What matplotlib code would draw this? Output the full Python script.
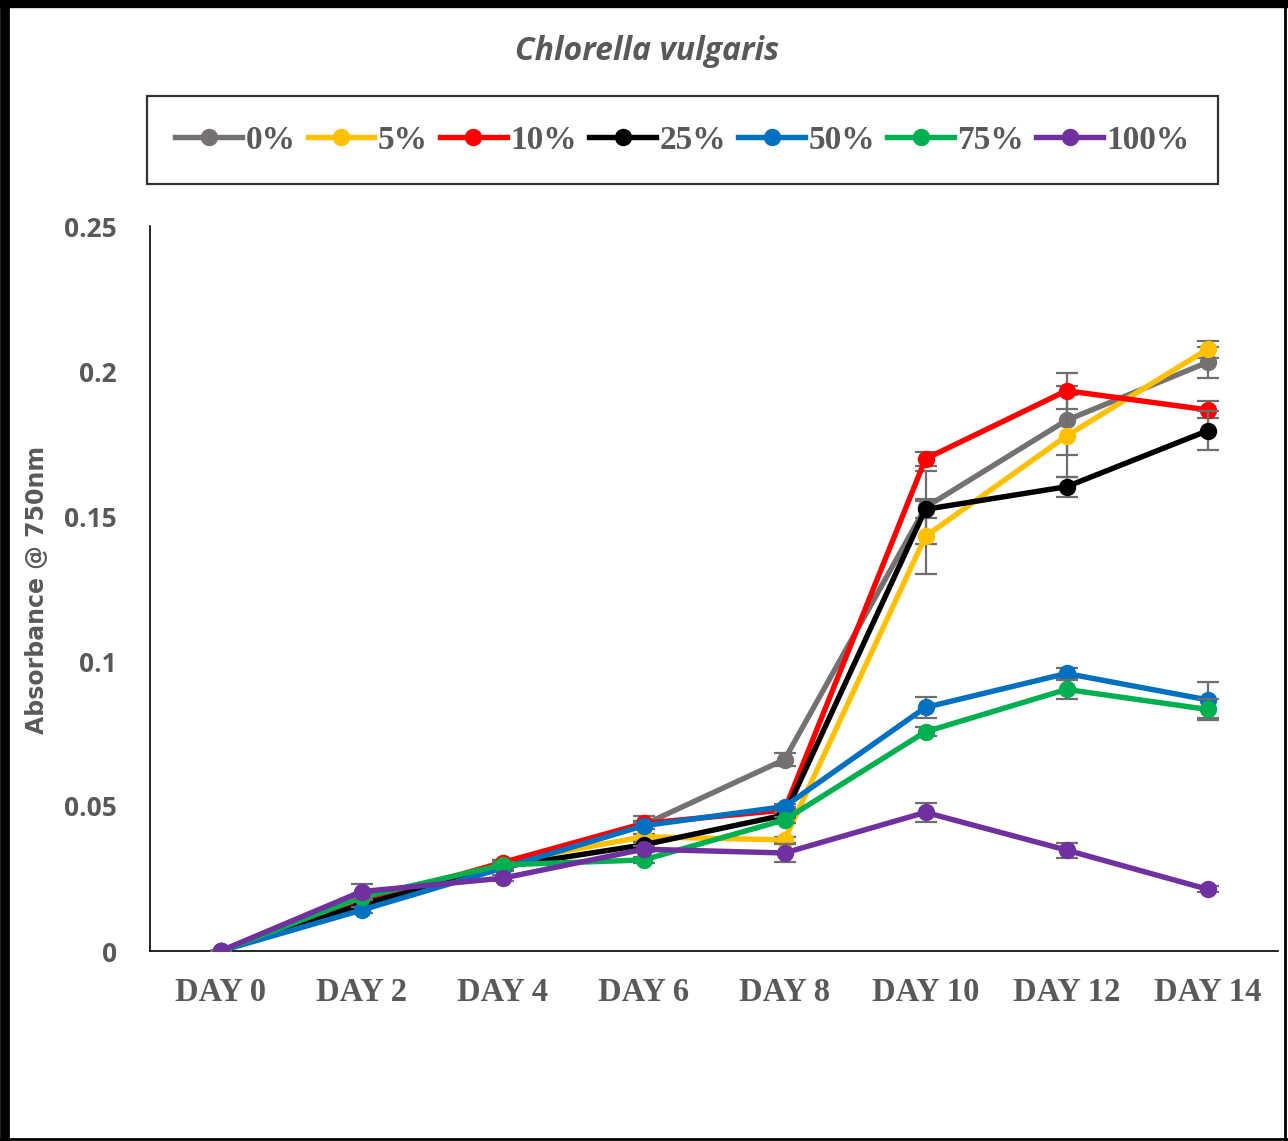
import numpy as np
import matplotlib.pyplot as plt
from matplotlib.lines import Line2D

days = ['DAY 0', 'DAY 2', 'DAY 4', 'DAY 6', 'DAY 8', 'DAY 10', 'DAY 12', 'DAY 14']
labels = ['0%', '5%', '10%', '25%', '50%', '75%', '100%']
colors = ['#767171', '#FFC000', '#FF0000', '#000000', '#0070C0', '#00B050', '#7030A0']

conc_0 = [0, 0.017, 0.029, 0.0435, 0.066, 0.153, 0.183, 0.203]
conc_5 = [0, 0.017, 0.0305, 0.0394, 0.0383, 0.143, 0.1776, 0.2075]
conc_10 = [0, 0.0165, 0.0305, 0.0440, 0.0486, 0.1697, 0.1932, 0.1866]
conc_25 = [0, 0.016, 0.029, 0.0366, 0.0469, 0.1523, 0.1601, 0.1794]
conc_50 = [0, 0.0141, 0.0286, 0.0432, 0.0498, 0.084, 0.0957, 0.0866]
conc_75 = [0, 0.0185, 0.0297, 0.0314, 0.0452, 0.0756, 0.0902, 0.0833]
conc_100 = [0, 0.0205, 0.0251, 0.0351, 0.0338, 0.0478, 0.0348, 0.0213]

err_0 = [0, 0.001, 0.001, 0.003, 0.0023, 0.0125, 0.012, 0.0053]
err_5 = [0, 0.001, 0.001, 0.001, 0.001, 0.013, 0.014, 0.0029]
err_10 = [0, 0.001, 0.001, 0.001, 0.001, 0.0025, 0.0062, 0.0029]
err_25 = [0, 0.001, 0.001, 0.001, 0.001, 0.003, 0.0034, 0.0067]
err_50 = [0, 0.001, 0.001, 0.001, 0.001, 0.0037, 0.002, 0.0063]
err_75 = [0, 0.001, 0.001, 0.001, 0.001, 0.0015, 0.0033, 0.0037]
err_100 = [0, 0.0026, 0.001, 0.001, 0.003, 0.0034, 0.0026, 0.001]

series = [conc_0, conc_5, conc_10, conc_25, conc_50, conc_75, conc_100]
errors = [err_0, err_5, err_10, err_25, err_50, err_75, err_100]

txt = '#595959'

fig = plt.figure(figsize=(12.88, 11.41), dpi=100)
ax = fig.add_axes([150 / 1288, 1 - 951 / 1141, 1128 / 1288, 725 / 1141])

x = np.arange(len(days))
for i, (vals, errs) in enumerate(zip(series, errors)):
    ax.errorbar(x, vals, yerr=errs, fmt='none', ecolor='#6e6e6e', elinewidth=1.6,
                capsize=8, capthick=1.6, zorder=2 + 2 * i)
    ax.plot(x, vals, color=colors[i], lw=3.9, marker='o', markersize=11.5,
            label=labels[i], zorder=3 + 2 * i)

ax.set_xlim(-0.5, len(days) - 0.5)
ax.set_ylim(0, 0.25)
ax.set_yticks([0, 0.05, 0.1, 0.15, 0.2, 0.25])
ax.set_yticklabels(['0', '0.05', '0.1', '0.15', '0.2', '0.25'])
ax.set_xticks(x)
ax.set_xticklabels(days)
ax.tick_params(axis='y', length=0, pad=24, labelcolor=txt, labelsize=19)
ax.tick_params(axis='x', length=0, pad=19, labelcolor=txt)
for t in ax.get_yticklabels():
    t.set_fontfamily('Open Sans')
    t.set_fontweight('bold')
for t in ax.get_xticklabels():
    t.set_fontfamily('Liberation Serif')
    t.set_fontweight('bold')
    t.set_fontsize(23.5)

ax.spines['top'].set_visible(False)
ax.spines['right'].set_visible(False)
ax.spines['left'].set_linewidth(1.2)
ax.spines['bottom'].set_linewidth(1.2)

fig.text(37 / 1288, 1 - 590 / 1141, 'Absorbance @ 750nm', rotation=90, ha='center', va='center',
         color=txt, fontsize=17, family='DejaVu Sans', fontweight='bold')

fig.text(647 / 1288, 1 - 51 / 1141, 'Chlorella vulgaris', ha='center', va='center',
         color=txt, fontsize=23, family='Open Sans', fontweight='bold', style='italic')

leg = fig.legend(loc='lower left', bbox_to_anchor=(147 / 1288, 1 - 184 / 1141, 1071 / 1288, 80 / 1141),
                 mode='expand', ncol=7, frameon=True, fancybox=False, handlelength=2.0,
                 handletextpad=0.1, borderaxespad=0, borderpad=0.85,
                 prop={'family': 'Liberation Serif', 'weight': 'bold', 'size': 24})
leg.get_frame().set_edgecolor('black')
leg.get_frame().set_linewidth(1.6)
for t in leg.get_texts():
    t.set_color(txt)

# outer frame
fig.add_artist(Line2D([0.004, 0.004], [0, 1], color='black', lw=7, transform=fig.transFigure))
fig.add_artist(Line2D([0, 1], [0.9965, 0.9965], color='black', lw=6, transform=fig.transFigure))
fig.add_artist(Line2D([0.998, 0.998], [0, 1], color='black', lw=2, transform=fig.transFigure))
fig.add_artist(Line2D([0, 1], [0.002, 0.002], color='black', lw=2, transform=fig.transFigure))

fig.savefig('out.png', dpi=100)
